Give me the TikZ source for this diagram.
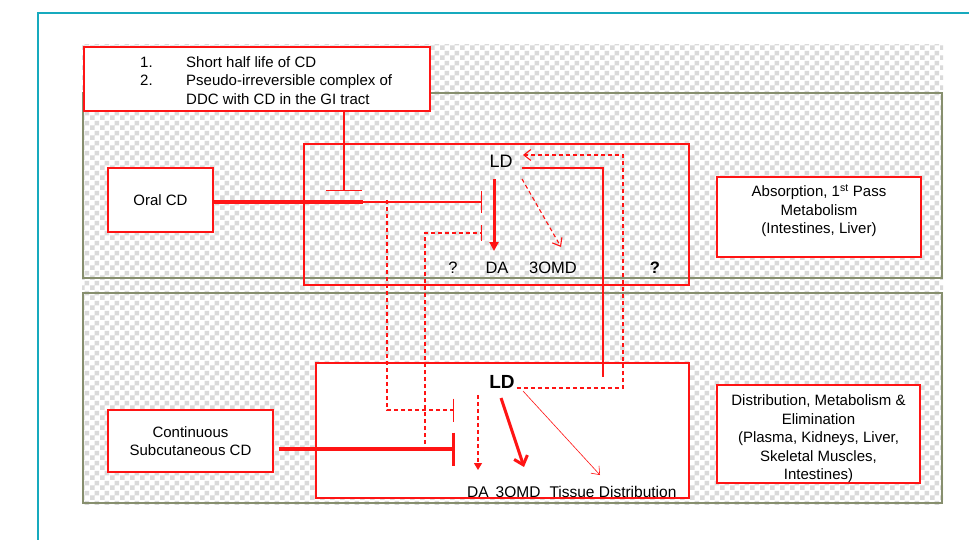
\documentclass[tikz,border=0pt]{standalone}
\usepackage{fontspec}
\setmainfont{Liberation Sans}
\usetikzlibrary{arrows.meta,patterns}
\pgfdeclarepatternformonly{checker}{\pgfpointorigin}{\pgfpoint{10pt}{10pt}}{\pgfpoint{10pt}{10pt}}{%
  \pgfpathrectangle{\pgfpointorigin}{\pgfpoint{5pt}{5pt}}%
  \pgfpathrectangle{\pgfpoint{5pt}{5pt}}{\pgfpoint{5pt}{5pt}}%
  \pgfusepath{fill}}
\definecolor{tealc}{RGB}{23,170,190}
\definecolor{olivec}{RGB}{135,143,110}
\definecolor{chk}{RGB}{218,218,218}
\definecolor{rd}{RGB}{255,20,20}
\begin{document}
\begin{tikzpicture}[x=1pt,y=-1pt,
  font=\fontsize{15}{18.5}\selectfont,
  redbox/.style={draw=rd, line width=1.2pt, fill=white, inner sep=0pt, align=center},
  frame/.style={draw=rd, line width=1.2pt, inner sep=0pt},
  thinred/.style={draw=rd, line width=1.1pt},
  thickred/.style={draw=rd, line width=3.2pt},
  dashred/.style={draw=rd, line width=1.1pt, dash pattern=on 4pt off 3pt},
  lbl/.style={font=\fontsize{16.5}{19}\selectfont, inner sep=0pt}]
\useasboundingbox (0,0) rectangle (969,540);
\fill[white] (0,0) rectangle (969,540);
\draw[tealc, line width=2pt] (38,541) -- (38,13) -- (970,13);
\fill[pattern=checker, pattern color=chk] (82,45) rectangle (943,504);
\draw[olivec, line width=2.6pt] (83,93) rectangle (942,278);
\draw[olivec, line width=2.6pt] (83,293) rectangle (942,503);

% boxes
\node[redbox, minimum width=346pt, minimum height=64pt] (note) at (257,79) {};
\node[anchor=base west, inner sep=0pt] (notetext) at (140,67.5)
  {\begin{tabular}[t]{@{}p{46pt}@{}l@{}}1.&Short half life of CD\\2.&Pseudo-irreversible complex of\\&DDC with CD in the GI tract\end{tabular}};
\node[frame, minimum width=385pt, minimum height=141pt] (up) at (496.5,214.5) {};
\node[redbox, minimum width=373pt, minimum height=135pt] (low) at (502.5,430.5) {};
\node[redbox, minimum width=105pt, minimum height=64pt] (oral) at (160.5,200) {Oral CD};
\node[redbox, minimum width=165pt, minimum height=62pt] (sub) at (190.5,441) {Continuous\\Subcutaneous CD};
\node[redbox, minimum width=204pt, minimum height=80pt] (abs) at (819,217)
  {Absorption, 1\textsuperscript{st} Pass\\Metabolism\\(Intestines, Liver)\\[-3pt]};
\node[redbox, minimum width=203pt, minimum height=98pt] (dis) at (818.5,434)
  {\rule{0pt}{21pt}Distribution, Metabolism \&\\Elimination\\(Plasma, Kidneys, Liver,\\Skeletal Muscles,\\Intestines)};

% labels
\node[lbl, font=\fontsize{18}{21}\selectfont] (ld1) at (501,161) {LD};
\node[lbl] (q1) at (453,268) {?};
\node[lbl] (da1) at (497,268) {DA};
\node[lbl] (omd1) at (553,268) {3OMD};
\node[lbl, font=\bfseries\fontsize{16.5}{19}\selectfont] (q2) at (655,268) {?};
\node[inner sep=0pt, font=\bfseries\fontsize{19}{22}\selectfont] (ld2) at (502,382) {LD};
\node[anchor=west, inner sep=0pt, font=\fontsize{15.5}{18}\selectfont] (dist) at (467,492)
  {DA\hspace{7pt}3OMD\hspace{9pt}Tissue Distribution};

% coordinates
\coordinate (inh) at (344,191);
\coordinate (j1) at (363,202);
\coordinate (b1) at (482,202);
\coordinate (d1a) at (387,202);
\coordinate (d1b) at (387,410);
\coordinate (b2) at (454,410);
\coordinate (s1) at (425,449);
\coordinate (b3) at (455,449);
\coordinate (d2a) at (425,233);
\coordinate (b4) at (482,233);

% inhibition from note
\draw[thinred, -{Bar[width=36pt]}] (note.south -| inh) -- (inh);
% oral CD
\draw[thickred] (oral.east |- j1) -- (j1);
\draw[thinred, -{Bar[width=22pt]}] (j1) -- (b1);
% dashed from oral line down to lower box
\draw[dashred, -{Bar[width=23pt]}] ([yshift=2pt]d1a) -- (d1b) -- (b2);
% subcutaneous
\draw[thickred, -{Bar[width=33pt]}] (sub.east |- s1) ++(5,0) -- (b3);
\draw[dashred, -{Bar[width=16pt]}] ([yshift=-2pt]s1) -- (d2a) -- (b4);
% upper LD arrows
\draw[draw=rd, line width=3pt, -{Triangle[length=9pt,width=9pt]}] (494,179) -- (494,251);
\draw[dashred, -{Straight Barb[length=7pt,width=11pt]}] (522,179) -- (561,247);
\draw[thinred] (522,168) -- (603,168) -- (603,377);
\draw[dashred, -{Straight Barb[length=7pt,width=11pt]}] (ld2.east |- 0,388) ++(2,0) -- (623,388) -- (623,155) -- (523,155);
% lower LD arrows
\draw[dashred, -{Triangle[length=7pt,width=8pt]}] (478,395) -- (478,470);
\draw[draw=rd, line width=3pt, -{Straight Barb[length=8pt,width=14pt]}] (501,398) -- (524,467);
\draw[draw=rd, line width=0.6pt, -{Straight Barb[length=7pt,width=11pt]}] (523,391) -- (600,475);
\end{tikzpicture}
\end{document}
